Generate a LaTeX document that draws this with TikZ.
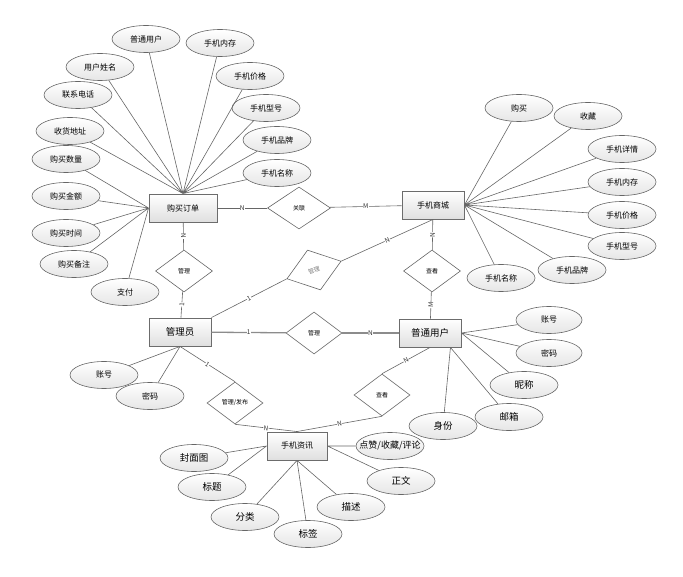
\documentclass[tikz,border=0pt]{standalone}
\usepackage{fontspec}
\setmainfont{Noto Sans CJK SC}
\usetikzlibrary{shapes.geometric, calc}

\newcommand{\fsmall}{\fontsize{8}{9}\selectfont}
\newcommand{\fbig}{\fontsize{9.5}{11}\selectfont}

\begin{document}
\begin{tikzpicture}[x=1pt, y=-1pt,
  entity/.style={draw=gray!85!black, line width=0.9pt, top color=white,
                 bottom color=gray!25, minimum width=62pt, minimum height=28pt,
                 inner sep=0pt, font=\fsmall},
  attr/.style={ellipse, draw=gray!80!black, line width=0.6pt, top color=white,
               bottom color=gray!20, minimum width=68pt, minimum height=27pt,
               inner sep=0pt, font=\fsmall},
  big/.style={font=\fbig},
  rel/.style={diamond, draw=gray!80!black, line width=0.6pt, fill=white,
              minimum width=57pt, minimum height=42pt, inner sep=0pt,
              font=\fontsize{6}{7}\selectfont},
  conn/.style={draw=black!60, line width=0.6pt},
  heavy/.style={draw=gray!90, line width=1.3pt},
  lbl/.style={font=\fontsize{6.5}{7}\selectfont, fill=white, inner sep=0.3pt,
              text=black!80}]
  \useasboundingbox (0,0) rectangle (683,577);

  % Entities
  \node[entity, minimum width=68pt] (ord) at (183,208) {购买订单};
  \node[entity] (shop) at (433,205) {手机商城};
  \node[entity, big] (mgr) at (180,332) {管理员};
  \node[entity, big] (user) at (430,333) {普通用户};
  \node[entity, minimum width=60pt] (info) at (297,446) {手机资讯};

  % Relations
  \node[rel, minimum width=63pt] (link) at (299,208) {关联};
  \node[rel] (mg1) at (184,271) {管理};
  \node[rel, rotate=18, text=gray] (mg2) at (314,270) {管理};
  \node[rel] (see1) at (432,271) {查看};
  \node[rel, minimum width=56pt] (mg3) at (314,333) {管理};
  \node[rel, minimum width=56pt] (pub) at (235,403) {管理/发布};
  \node[rel, minimum width=56pt] (see2) at (382,395) {查看};

  % Attributes of the order
  \node[attr] (ouser) at (146,39) {普通用户};
  \node[attr] (omem) at (220,43) {手机内存};
  \node[attr] (oname) at (100,67) {用户姓名};
  \node[attr] (oprice) at (250,76) {手机价格};
  \node[attr] (otel) at (78,95) {联系电话};
  \node[attr] (omodel) at (266,108) {手机型号};
  \node[attr] (oaddr) at (70,131) {收货地址};
  \node[attr] (obrand) at (277,140) {手机品牌};
  \node[attr] (onum) at (66,159) {购买数量};
  \node[attr] (ophone) at (277,173) {手机名称};
  \node[attr] (oamt) at (66,196) {购买金额};
  \node[attr] (otime) at (66,233) {购买时间};
  \node[attr] (onote) at (74,264) {购买备注};
  \node[attr] (opay) at (125,292) {支付};

  % Attributes of the shop
  \node[attr] (sbuy) at (519,108) {购买};
  \node[attr] (sfav) at (588,116) {收藏};
  \node[attr] (sinfo) at (622,149) {手机详情};
  \node[attr] (smem) at (622,182) {手机内存};
  \node[attr] (sprice) at (622,215) {手机价格};
  \node[attr] (smodel) at (622,246) {手机型号};
  \node[attr] (sbrand) at (572,270) {手机品牌};
  \node[attr] (sname) at (501,278) {手机名称};

  % Attributes of the admin
  \node[attr] (macc) at (104,375) {账号};
  \node[attr] (mpwd) at (150,396) {密码};

  % Attributes of the user
  \node[attr, minimum width=66pt] (uacc) at (549,320) {账号};
  \node[attr, minimum width=66pt] (upwd) at (549,353) {密码};
  \node[attr, big] (unick) at (524,385) {昵称};
  \node[attr, big] (umail) at (509,417) {邮箱};
  \node[attr, big] (urole) at (443,426) {身份};

  % Attributes of the news
  \node[attr, big] (icover) at (194,458) {封面图};
  \node[attr, big] (ititle) at (212,487) {标题};
  \node[attr, big] (icat) at (245,517) {分类};
  \node[attr, big] (itag) at (308,534) {标签};
  \node[attr, big] (idesc) at (351,507) {描述};
  \node[attr, big] (itext) at (401,481) {正文};
  \node[attr, font=\fontsize{9}{10}\selectfont, inner xsep=-8pt] (ilike) at (390,446) {点赞/收藏/评论};

  % Attribute links
  \coordinate (ubot) at ($(user.south)!0.65!(user.south east)$);
  \draw[conn] (ouser) -- (ord.north) (omem) -- (ord.north)
    (oname) -- (ord.north) (oprice) -- (ord.north) (otel) -- (ord.north)
    (omodel) -- (ord.north) (oaddr) -- (ord.north) (obrand) -- (ord.north)
    (ophone) -- (ord.north);
  \draw[conn] (onum) -- (ord.west) (oamt) -- (ord.west) (otime) -- (ord.west)
    (onote) -- (ord.west) (opay) -- (ord.west);
  \draw[conn] (sbuy) -- (shop.east) (sfav) -- (shop.east) (sinfo) -- (shop.east)
    (smem) -- (shop.east) (sprice) -- (shop.east) (smodel) -- (shop.east)
    (sbrand) -- (shop.east) (sname) -- (shop.east);
  \draw[conn] (macc) -- (mgr.south) (mpwd) -- (mgr.south);
  \draw[conn] (uacc) -- (user.east) (upwd) -- (user.east) (unick) -- (user.east)
    (umail) -- (ubot) (urole) -- (ubot);
  \draw[conn] (icover) -- (info.west) (ititle) -- (info.west)
    (icat) -- (info.south) (itag) -- (info.south) (idesc) -- (info.south)
    (ilike) -- (info.east) (itext) -- (info.east);

  % Relation links
  \draw[conn] (ord) -- node[lbl] {N} (link);
  \draw[conn] (link) -- node[lbl] {M} (shop);
  \draw[conn] (ord) -- node[lbl, sloped] {N} (mg1);
  \draw[conn] (mg1) -- node[lbl, sloped] {1} (mgr);
  \draw[conn] (mgr.north east) -- node[lbl, sloped] {1} (mg2.west);
  \draw[conn] (mg2.east) -- node[lbl, sloped] {N} (shop.south);
  \draw[conn] (shop) -- node[lbl, sloped] {N} (see1);
  \draw[conn] (see1) -- node[lbl, sloped] {M} (user);
  \draw[heavy] (mgr) -- node[lbl] {1} (mg3);
  \draw[heavy] (mg3) -- node[lbl] {N} (user);
  \draw[conn] (mgr.south) -- node[lbl, sloped] {1} (pub.north);
  \draw[conn] (pub.south) -- node[lbl, sloped] {N} (info.north);
  \draw[conn] (info.north) -- node[lbl, sloped] {N} (see2.south);
  \draw[conn] (see2.north) -- node[lbl, sloped] {N} (user.south);
\end{tikzpicture}
\end{document}
